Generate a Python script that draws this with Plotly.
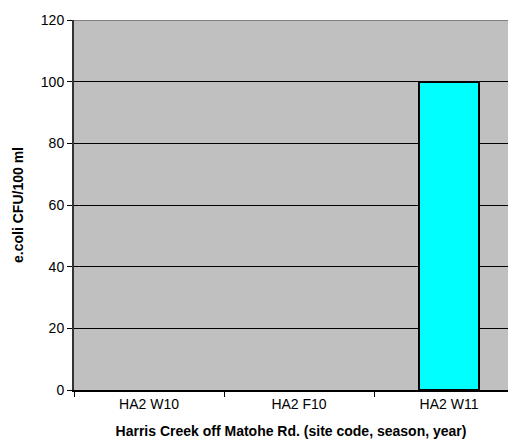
import plotly.graph_objects as go

categories = ["HA2 W10", "HA2 F10", "HA2 W11"]
values = [0, 0, 100]
y_ticks = [0, 20, 40, 60, 80, 100, 120]

fig = go.Figure()
fig.add_trace(go.Bar(
    x=categories, y=values, width=0.4,
    marker=dict(color="#00FFFF",
                line=dict(color="black", width=[0 if v == 0 else 2 for v in values])),
))
fig.add_shape(type="line", xref="paper", yref="y", x0=0, x1=1, y0=120, y1=120,
              line=dict(color="#808080", width=2), layer="above")

fig.update_layout(
    width=500, height=431,
    margin=dict(l=66, r=0, t=12, b=49, autoexpand=False),
    plot_bgcolor="#C0C0C0", paper_bgcolor="white",
    font=dict(family="Liberation Sans, Arial, sans-serif", size=14, color="black"),
    showlegend=False,
    bargap=0,
)
fig.update_xaxes(
    type="category", range=[-0.5, 2.393], automargin=False,
    tickson="boundaries", ticks="outside", ticklen=5, tickcolor="black",
    showline=True, linecolor="black", linewidth=2,
    showgrid=False, tickfont=dict(size=14),
    title=dict(text="<b>Harris Creek off Matohe Rd. (site code, season, year)</b>",
               font=dict(size=14), standoff=19),
)
fig.update_yaxes(
    range=[0, 120], tickvals=y_ticks, ticks="outside", ticklen=5, tickcolor="black",
    showline=True, linecolor="#333333", linewidth=2, automargin=False,
    showgrid=True, gridcolor="black", gridwidth=1, zeroline=False,
    tickfont=dict(size=14),
    title=dict(text="<b>e.coli CFU/100 ml</b>", font=dict(size=14), standoff=14),
)
fig.write_html("out.html")
